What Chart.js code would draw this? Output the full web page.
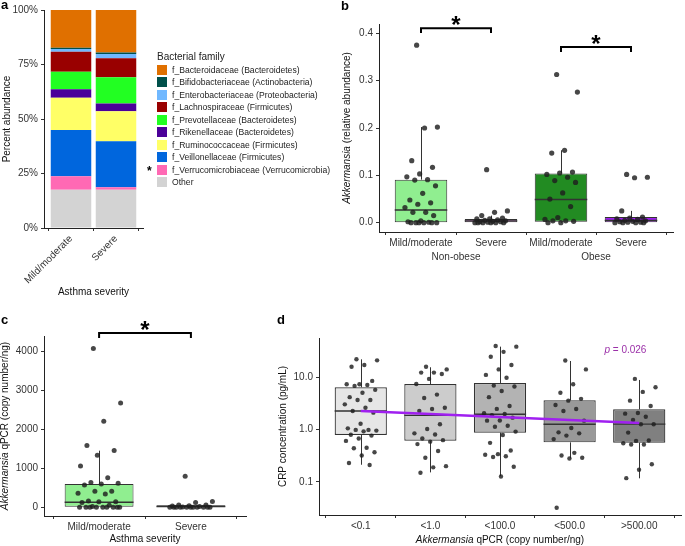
<!DOCTYPE html>
<html>
<head>
<meta charset="utf-8">
<script src="https://cdn.jsdelivr.net/npm/chart.js@4.4.1/dist/chart.umd.min.js"></script>
<style>
  body { margin: 0; background: #fff; }
  #fig { position: relative; width: 685px; height: 546px; overflow: hidden; font-family: 'Liberation Sans', Arial, sans-serif; }
  #fig canvas { position: absolute; }
  .tag { position: absolute; font-weight: bold; font-size: 13px; line-height: 13px; color: #000; }
  #legendA { position: absolute; left: 157px; top: 51px; color: #222; }
  #legendA .ttl { font-size: 10px; line-height: 12px; height: 12.5px; }
  #legendA .row { height: 12.5px; display: flex; align-items: center; font-size: 8.6px; }
  #legendA .sw { width: 10px; height: 10px; margin-right: 5px; flex: none; }
  #starA { position: absolute; left: 147px; top: 165px; font-weight: bold; font-size: 12px; line-height: 12px; }
</style>
</head>
<body>
<div id="fig">
  <canvas id="chartA" width="340" height="300" style="left:0;top:0"></canvas>
  <canvas id="chartB" width="345" height="300" style="left:340px;top:0"></canvas>
  <canvas id="chartC" width="260" height="246" style="left:0;top:300px"></canvas>
  <canvas id="chartD" width="425" height="246" style="left:260px;top:300px"></canvas>
  <div id="legendA"></div>
  <div id="starA">*</div>
  <div class="tag" style="left:1px;top:-2px">a</div>
  <div class="tag" style="left:341px;top:-1px">b</div>
  <div class="tag" style="left:1px;top:313px">c</div>
  <div class="tag" style="left:277px;top:313px">d</div>
</div>
<script>
// ---- panel a: mean relative abundance by family (%)
const families = [
  'f_Bacteroidaceae (Bacteroidetes)',
  'f_Bifidobacteriaceae (Actinobacteria)',
  'f_Enterobacteriaceae (Proteobacteria)',
  'f_Lachnospiraceae (Firmicutes)',
  'f_Prevotellaceae (Bacteroidetes)',
  'f_Rikenellaceae (Bacteroidetes)',
  'f_Ruminococcaceae (Firmicutes)',
  'f_Veillonellaceae (Firmicutes)',
  'f_Verrucomicrobiaceae (Verrucomicrobia)',
  'Other'
];
const severityGroups = ['Mild/moderate', 'Severe'];
const abundanceMild = [17.3, 0.6, 1.2, 9.2, 8.1, 3.9, 14.8, 21.2, 6.2, 17.5];
const abundanceSevere = [19.5, 0.7, 1.9, 8.8, 12.0, 3.5, 13.8, 21.1, 1.2, 17.5];
const percentTicks = [0, 25, 50, 75, 100];

// ---- panel b: Akkermansia relative abundance
const bCategories = ['Mild/moderate', 'Severe', 'Mild/moderate', 'Severe'];
const bObesity = ['Non-obese', 'Obese'];
const bNonObeseMild = [0.375, 0.202, 0.2, 0.131, 0.117, 0.103, 0.097, 0.091, 0.090, 0.078, 0.062, 0.048, 0.042, 0.039,
  0.032, 0.022, 0.022, 0.015, 0.004, 0.002, 0.001, 0, 0, 0, 0, 0, 0];
const bNonObeseSevere = [0.112, 0.025, 0.022, 0.015, 0.010, 0.008, 0.008, 0.006, 0.005, 0.004, 0.003, 0.002, 0.002,
  0.001, 0, 0, 0, 0, 0, 0];
const bObeseMild = [0.313, 0.276, 0.153, 0.147, 0.107, 0.105, 0.102, 0.096, 0.089, 0.085, 0.063, 0.050, 0.034, 0.011,
  0.007, 0.004, 0.004, 0.003, 0, 0];
const bObeseSevere = [0.102, 0.096, 0.095, 0.025, 0.012, 0.010, 0.008, 0.007, 0.005, 0.004, 0.003, 0.002, 0.001, 0.001,
  0, 0, 0, 0];
const bQ1 = [0.001, 0.001, 0.002, 0.000];
const bMedian = [0.027, 0.004, 0.049, 0.005];
const bQ3 = [0.091, 0.008, 0.104, 0.012];
const bLow = [0, 0, 0, 0];
const bHigh = [0.202, 0.015, 0.153, 0.025];
const bTicks = [0, 0.1, 0.2, 0.3, 0.4];

// ---- panel c: Akkermansia qPCR
const cCategories = ['Mild/moderate', 'Severe'];
const cMild = [4080, 2680, 2210, 1590, 1460, 1340, 1060, 760, 640, 620, 600, 570, 410, 410, 360, 340, 160, 140, 140,
  120, 50, 20, 0, 0, 0, 0, 0, 0, 0, 0, 0];
const cSevere = [800, 150, 120, 60, 60, 40, 30, 20, 10, 0, 0, 0, 0, 0, 0, 0, 0, 0, 0, 0];
const cQ1 = [0, 0];
const cMedian = [128, 20];
const cQ3 = [600, 50];
const cLow = [0, 0];
const cHigh = [1456, 60];
const cTicks = [0, 1000, 2000, 3000, 4000];

// ---- panel d: CRP by Akkermansia qPCR group
const dCategories = ['<0.1', '<1.0', '<100.0', '<500.0', '>500.00'];
const dLt01 = [22.3, 21.3, 17.4, 16.1, 8.6, 7.4, 7.4, 7.2, 6.9, 5.8, 5.1, 4.2, 3.7, 3.7, 3.06, 2.64, 2.28, 2.12, 1.30,
  1.06, 0.99, 0.99, 0.96, 0.93, 0.80, 0.77, 0.68, 0.61, 0.45, 0.44, 0.37, 0.32, 0.23, 0.21];
const dLt1 = [16.1, 14.3, 12.4, 12.4, 11.7, 9.4, 7.5, 4.7, 4.05, 2.64, 2.49, 2.28, 1.27, 1.03, 0.85, 0.81, 0.68, 0.63,
  0.59, 0.53, 0.39, 0.29, 0.20, 0.19, 0.15];
const dLt100 = [40, 39, 31, 25, 17.4, 14.3, 11.2, 9.9, 7.0, 6.7, 5.5, 4.2, 2.84, 2.5, 2.06, 2.0, 1.9, 1.7, 1.5, 1.49,
  1.19, 1.14, 0.92, 0.79, 0.56, 0.40, 0.34, 0.33, 0.31, 0.30, 0.195, 0.127];
const dLt500 = [21.1, 14.3, 7.4, 5.1, 3.9, 3.6, 2.97, 2.49, 2.28, 1.49, 1.08, 0.89, 0.85, 0.77, 0.66, 0.36, 0.32,
  0.29, 0.28, 0.032];
const dGt500 = [9.4, 6.5, 5.3, 3.6, 2.84, 2.09, 2.03, 1.77, 1.53, 1.27, 1.27, 0.88, 0.62, 0.61, 0.55, 0.52, 0.52,
  0.217, 0.171, 0.118];
const dQ1 = [0.79, 0.615, 0.875, 0.572, 0.564];
const dMedian = [2.28, 1.88, 1.97, 1.27, 1.28];
const dQ3 = [6.5, 7.5, 7.85, 3.65, 2.45];
const dLow = [0.213, 0.152, 0.129, 0.282, 0.117];
const dHigh = [22.3, 15.7, 39, 20.7, 8.96];
const dTrendX = [1, 5];
const dTrendY = [2.28, 1.34];
const dTicks = [0.1, 1, 10];

// ---- styles
const FONT = "'Liberation Sans', Arial, sans-serif";
const familyColors = ['#E07000', '#00504A', '#70B8FF', '#990000', '#22FF22', '#4B0099', '#FFFF66', '#0066DD',
  '#FF69B4', '#D3D3D3'];
const bColors = ['#90EE90', '#D58AD5', '#228B22', '#A020F0'];
const cColors = ['#90EE90', '#D58AD5'];
const dColors = ['#E6E6E6', '#CCCCCC', '#B3B3B3', '#999999', '#808080'];
const dotColor = 'rgba(30,30,30,0.82)';

Chart.defaults.font.family = FONT;
Chart.defaults.font.size = 10;
Chart.defaults.color = '#333';

const grid = { drawOnChartArea: false, drawTicks: true, tickLength: 3, color: '#333', lineWidth: 1 };
const border = { display: true, color: '#222', width: 1 };

// deterministic horizontal spread for the dots (geom_jitter look)
function jitter(i, w) {
  return (((i * 0.6180339887 + 0.37) % 1) - 0.5) * 2 * w;
}

function dotsFrom(groups, w) {
  const pts = [];
  groups.forEach((vals, k) => vals.forEach((v, i) => pts.push({ x: k + 1 + jitter(i, w), y: v })));
  return pts;
}

function drawParts(ctx, parts, x, y, opt) {
  opt = opt || {};
  const size = opt.size || 10;
  const font = p => (p.italic ? 'italic ' : '') + size + 'px ' + FONT;
  ctx.save();
  ctx.translate(x, y);
  if (opt.rotate) ctx.rotate(-Math.PI / 2);
  ctx.textBaseline = 'middle';
  ctx.textAlign = 'left';
  ctx.fillStyle = opt.color || '#111';
  let total = 0;
  parts.forEach(p => { ctx.font = font(p); total += ctx.measureText(p.text).width; });
  let cx = opt.align === 'left' ? 0 : -total / 2;
  parts.forEach(p => { ctx.font = font(p); ctx.fillText(p.text, cx, 0); cx += ctx.measureText(p.text).width; });
  ctx.restore();
}

// whiskers under the boxes, medians on top of them
function boxPlugin(s) {
  return {
    id: 'boxes',
    beforeDatasetsDraw(chart) {
      const { ctx, scales: { x, y } } = chart;
      ctx.save();
      ctx.strokeStyle = '#333';
      ctx.lineWidth = 1;
      ctx.beginPath();
      s.med.forEach((m, i) => {
        const px = Math.round(x.getPixelForValue(i + 1)) + 0.5;
        ctx.moveTo(px, y.getPixelForValue(s.hi[i]));
        ctx.lineTo(px, y.getPixelForValue(s.q3[i]));
        ctx.moveTo(px, y.getPixelForValue(s.q1[i]));
        ctx.lineTo(px, y.getPixelForValue(s.lo[i]));
      });
      ctx.stroke();
      ctx.restore();
    },
    afterDatasetDraw(chart, args) {
      if (args.meta.type !== 'bar') return;
      const { ctx, scales: { y } } = chart;
      ctx.save();
      ctx.strokeStyle = '#333';
      ctx.lineWidth = 1.4;
      ctx.beginPath();
      args.meta.data.forEach((bar, i) => {
        const { x, width } = bar.getProps(['x', 'width'], true);
        const py = y.getPixelForValue(s.med[i]);
        ctx.moveTo(x - width / 2, py);
        ctx.lineTo(x + width / 2, py);
      });
      ctx.stroke();
      ctx.restore();
    }
  };
}

function extrasPlugin(cfg) {
  return {
    id: 'extras',
    afterDraw(chart) {
      const { ctx, chartArea, scales: { x, y } } = chart;
      if (cfg.yTitle) drawParts(ctx, cfg.yTitle, cfg.yTitleX, (chartArea.top + chartArea.bottom) / 2, { rotate: true });
      if (cfg.xTitle) drawParts(ctx, cfg.xTitle, (chartArea.left + chartArea.right) / 2, cfg.xTitleY);
      (cfg.groups || []).forEach(g =>
        drawParts(ctx, [{ text: g.text }], x.getPixelForValue(g.at), cfg.groupY, { color: '#333' }));
      (cfg.brackets || []).forEach(b => {
        const x1 = x.getPixelForValue(b.from), x2 = x.getPixelForValue(b.to);
        const yt = y.getPixelForValue(b.y), yb = y.getPixelForValue(b.y - b.drop);
        ctx.save();
        ctx.strokeStyle = '#000';
        ctx.lineWidth = 2;
        ctx.beginPath();
        ctx.moveTo(x1, yb);
        ctx.lineTo(x1, yt);
        ctx.lineTo(x2, yt);
        ctx.lineTo(x2, yb);
        ctx.stroke();
        ctx.font = 'bold 24px ' + FONT;
        ctx.textAlign = 'center';
        ctx.textBaseline = 'alphabetic';
        ctx.fillStyle = '#000';
        ctx.fillText(b.label, (x1 + x2) / 2, yt + 5);
        ctx.restore();
      });
      if (cfg.note) {
        drawParts(ctx, cfg.note.parts, x.getPixelForValue(cfg.note.x), y.getPixelForValue(cfg.note.y),
          { align: 'left', color: cfg.note.color });
      }
    }
  };
}

function fixedTicks(values) {
  return s => { s.ticks = values.map(v => ({ value: v })); };
}

const baseOptions = {
  responsive: false,
  animation: false,
  events: [],
  plugins: { legend: { display: false }, tooltip: { enabled: false } }
};

// ---------- panel a
new Chart(document.getElementById('chartA'), {
  type: 'scatter',
  data: {
    datasets: families.map((f, k) => ({
      type: 'bar',
      label: f,
      data: [abundanceMild[k], abundanceSevere[k]].map((v, i) => ({ x: i + 1, y: v })),
      backgroundColor: familyColors[k],
      borderWidth: 0,
      barPercentage: 0.9,
      categoryPercentage: 1
    })).reverse()
  },
  options: {
    ...baseOptions,
    layout: { padding: { top: 10, right: 197, left: 0, bottom: 0 } },
    scales: {
      x: {
        type: 'linear', min: 0.4, max: 2.6, stacked: true, offset: false,
        afterBuildTicks: fixedTicks([1, 2]),
        afterFit: s => { s.height = 72; },
        ticks: { callback: v => severityGroups[v - 1], minRotation: 45, maxRotation: 45, autoSkip: false, padding: 2 },
        grid, border,
        title: { display: true, text: 'Asthma severity', color: '#111', padding: { top: 0, bottom: 2 } }
      },
      y: {
        type: 'linear', min: 0, max: 100, stacked: true,
        afterBuildTicks: fixedTicks(percentTicks),
        afterFit: s => { s.width = 44; },
        ticks: { callback: v => v + '%', padding: 3 },
        grid, border,
        title: { display: true, text: 'Percent abundance', color: '#111', padding: { top: 1, bottom: 0 } }
      }
    }
  }
});

// HTML legend for panel a, built from the same arrays
const legendA = document.getElementById('legendA');
legendA.innerHTML = '<div class="ttl">Bacterial family</div>' + families.map((f, k) =>
  '<div class="row"><span class="sw" style="background:' + familyColors[k] + '"></span>' + f + '</div>').join('');

// ---------- panel b
new Chart(document.getElementById('chartB'), {
  type: 'scatter',
  data: {
    datasets: [
      {
        type: 'scatter',
        data: dotsFrom([bNonObeseMild, bNonObeseSevere, bObeseMild, bObeseSevere], 0.24),
        pointRadius: 2.6, pointBorderWidth: 0, backgroundColor: dotColor, order: 0
      },
      {
        type: 'bar',
        data: bQ1.map((q, i) => ({ x: i + 1, y: [q, bQ3[i]] })),
        backgroundColor: bColors, borderColor: '#333', borderWidth: 1, borderSkipped: false,
        barPercentage: 0.75, categoryPercentage: 1, order: 1
      }
    ]
  },
  options: {
    ...baseOptions,
    layout: { padding: { top: 24, right: 12, left: 0, bottom: 0 } },
    scales: {
      x: {
        type: 'linear', min: 0.4, max: 4.6, offset: false,
        afterBuildTicks: fixedTicks([1, 2, 3, 4]),
        afterFit: s => { s.height = 68; },
        ticks: { callback: v => bCategories[v - 1], maxRotation: 0, autoSkip: false, padding: 2 },
        grid, border
      },
      y: {
        type: 'linear', min: -0.0196, max: 0.4197,
        afterBuildTicks: fixedTicks(bTicks),
        afterFit: s => { s.width = 39; },
        ticks: { callback: v => v.toFixed(1), padding: 3 },
        grid, border
      }
    }
  },
  plugins: [
    boxPlugin({ q1: bQ1, med: bMedian, q3: bQ3, lo: bLow, hi: bHigh }),
    extrasPlugin({
      yTitle: [{ text: 'Akkermansia', italic: true }, { text: ' (relative abundance)' }], yTitleX: 7,
      groups: [{ text: bObesity[0], at: 1.5 }, { text: bObesity[1], at: 3.5 }], groupY: 257,
      brackets: [{ from: 1, to: 2, y: 0.4106, drop: 0.01, label: '*' }, { from: 3, to: 4, y: 0.371, drop: 0.0105, label: '*' }]
    })
  ]
});

// ---------- panel c
new Chart(document.getElementById('chartC'), {
  type: 'scatter',
  data: {
    datasets: [
      {
        type: 'scatter',
        data: dotsFrom([cMild, cSevere], 0.24),
        pointRadius: 2.5, pointBorderWidth: 0, backgroundColor: dotColor, order: 0
      },
      {
        type: 'bar',
        data: cQ1.map((q, i) => ({ x: i + 1, y: [q, cQ3[i]] })),
        backgroundColor: cColors, borderColor: '#333', borderWidth: 1, borderSkipped: false,
        barPercentage: 0.75, categoryPercentage: 1, order: 1
      }
    ]
  },
  options: {
    ...baseOptions,
    layout: { padding: { top: 36, right: 14, left: 0, bottom: 0 } },
    scales: {
      x: {
        type: 'linear', min: 0.4, max: 2.6, offset: false,
        afterBuildTicks: fixedTicks([1, 2]),
        afterFit: s => { s.height = 30; },
        ticks: { callback: v => cCategories[v - 1], maxRotation: 0, autoSkip: false, padding: 2 },
        grid, border,
        title: { display: true, text: 'Asthma severity', color: '#111', padding: { top: 0, bottom: 1 } }
      },
      y: {
        type: 'linear', min: -224, max: 4404,
        afterBuildTicks: fixedTicks(cTicks),
        afterFit: s => { s.width = 44; },
        ticks: { callback: v => String(v), padding: 3 },
        grid, border
      }
    }
  },
  plugins: [
    boxPlugin({ q1: cQ1, med: cMedian, q3: cQ3, lo: cLow, hi: cHigh }),
    extrasPlugin({
      yTitle: [{ text: 'Akkermansia', italic: true }, { text: ' qPCR (copy number/ng)' }], yTitleX: 5,
      brackets: [{ from: 1, to: 2, y: 4481, drop: 129, label: '*' }]
    })
  ]
});

// ---------- panel d
new Chart(document.getElementById('chartD'), {
  type: 'scatter',
  data: {
    datasets: [
      {
        type: 'line',
        data: dTrendX.map((v, i) => ({ x: v, y: dTrendY[i] })),
        borderColor: '#A020F0', borderWidth: 2.5, pointRadius: 0, fill: false, order: -1
      },
      {
        type: 'scatter',
        data: dotsFrom([dLt01, dLt1, dLt100, dLt500, dGt500], 0.24),
        pointRadius: 2.2, pointBorderWidth: 0, backgroundColor: dotColor, order: 0
      },
      {
        type: 'bar',
        data: dQ1.map((q, i) => ({ x: i + 1, y: [q, dQ3[i]] })),
        backgroundColor: dColors, borderColor: '#333', borderWidth: 1.2, borderSkipped: false,
        barPercentage: 0.75, categoryPercentage: 1, order: 1
      }
    ]
  },
  options: {
    ...baseOptions,
    layout: { padding: { top: 38, right: 1, left: 0, bottom: 0 } },
    scales: {
      x: {
        type: 'linear', min: 0.4, max: 5.6, offset: false,
        afterBuildTicks: fixedTicks([1, 2, 3, 4, 5]),
        afterFit: s => { s.height = 31; },
        ticks: { callback: v => dCategories[v - 1], maxRotation: 0, autoSkip: false, padding: 2 },
        grid, border
      },
      y: {
        type: 'logarithmic', min: 0.0232, max: 57.1,
        afterBuildTicks: fixedTicks(dTicks),
        afterFit: s => { s.width = 59; },
        ticks: { callback: v => Number(v).toFixed(1), padding: 3 },
        grid, border,
        title: { display: true, text: 'CRP concentration (pg/mL)', color: '#111', padding: { top: 17, bottom: 0 } }
      }
    }
  },
  plugins: [
    boxPlugin({ q1: dQ1, med: dMedian, q3: dQ3, lo: dLow, hi: dHigh }),
    extrasPlugin({
      xTitle: [{ text: 'Akkermansia', italic: true }, { text: ' qPCR (copy number/ng)' }], xTitleY: 240,
      note: { parts: [{ text: 'p', italic: true }, { text: ' = 0.026' }], x: 4.5, y: 34, color: '#9B30A8' }
    })
  ]
});
</script>
</body>
</html>
